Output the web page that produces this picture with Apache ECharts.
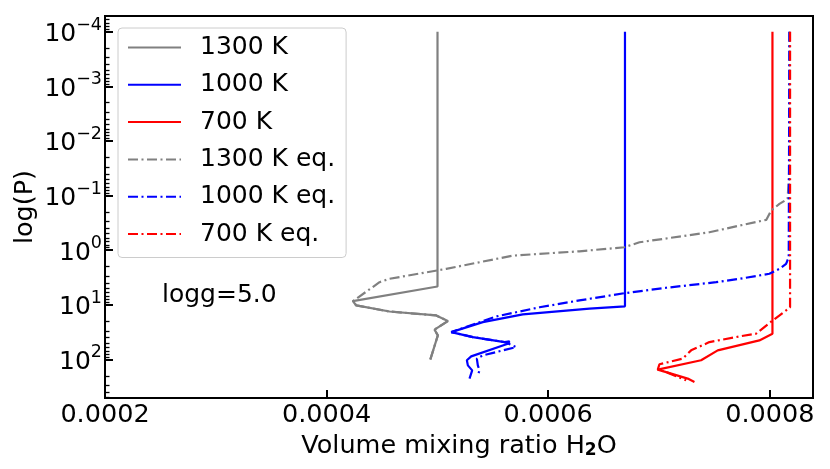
<!DOCTYPE html>
<html lang="en">
<head>
	<meta charset="UTF-8">
	<title>H2O mixing ratio</title>
	<script src="https://cdn.jsdelivr.net/npm/echarts@6/dist/echarts.min.js"></script>
	<style>
		html, body { margin: 0; padding: 0; background: #fff; }
		#chart { width: 830px; height: 469px; }
	</style>
</head>
<body>
<div id="chart"></div>
<script>
    // volume mixing ratio (x) and pressure (y)
    var mr1300 = [0.0005001, 0.0005001, 0.0004237, 0.0004268, 0.0004568, 0.0004990, 0.0005094, 0.0004974, 0.0005004, 0.0004936];
    var p1300 = [1e-4, 4.63, 8.6, 10.3, 13.3, 15.7, 19.9, 28.6, 36.4, 101];

    var mr1000 = [0.0006693, 0.0006693, 0.0006373, 0.0005771, 0.0005410, 0.0005125, 0.0005320, 0.0005606, 0.0005651, 0.0005636, 0.0005305, 0.0005266, 0.0005275, 0.0005314, 0.0005290];
    var p1000 = [1e-4, 10.7, 11.8, 15.0, 20.8, 31.7, 39.1, 48.3, 46.9, 51.6, 88.1, 104, 129, 159, 225];

    var mr700 = [0.0008024, 0.0008024, 0.0007906, 0.0007530, 0.0007380, 0.0006989, 0.0007065, 0.0007259, 0.0007320];
    var p700 = [1e-4, 33.9, 45, 68.4, 104, 154, 171, 225, 260];

    var mr1300eq = [0.0008177, 0.0008177, 0.0008172, 0.0008161, 0.0008087, 0.0008012, 0.0007969, 0.0007726, 0.0007455, 0.0006824, 0.0006688, 0.0006282, 0.0005681, 0.0005080, 0.0004568, 0.0004478, 0.0004237, 0.0004268, 0.0004568, 0.0004990, 0.0005094, 0.0004974, 0.0005004, 0.0004936];
    var p1300eq = [1e-4, 0.0247, 0.0498, 0.1154, 0.1425, 0.189, 0.279, 0.355, 0.471, 0.718, 0.885, 1.05, 1.26, 2.2, 3.35, 3.86, 8.6, 10.3, 13.3, 15.7, 19.9, 28.6, 36.4, 101];

    var mr1000eq = [0.0008177, 0.0008171, 0.0008147, 0.0008087, 0.0007996, 0.0007726, 0.0007516, 0.0007065, 0.0006688, 0.0006282, 0.0005922, 0.0005531, 0.0005125, 0.0005320, 0.0005606, 0.0005711, 0.0005410, 0.0005356, 0.0005365, 0.0005380, 0.0005365];
    var p1000eq = [1e-4, 1.35, 1.78, 2.2, 2.71, 3.35, 3.86, 4.89, 6.14, 8.34, 11.1, 16.4, 31.7, 39.1, 48.3, 59.6, 84.5, 97.1, 129, 159, 196];

    var mr700eq = [0.0008183, 0.0008183, 0.0008147, 0.0008026, 0.0007876, 0.0007726, 0.0007455, 0.0007290, 0.0007214, 0.0007004, 0.0006989, 0.0007065, 0.0007245];
    var p700eq = [1e-4, 11.1, 12.7, 19.4, 33.9, 38, 48.3, 68.4, 97, 123, 154, 171, 242];

    var xTicks = [0.0002, 0.0004, 0.0006, 0.0008];
    var yTicks = [1e-4, 1e-3, 1e-2, 1e-1, 1, 10, 100];

    var minorTicks = [];
    for (var e = -5; e <= 2; e++) {
        for (var m = 2; m <= 9; m++) {
            var v = m * Math.pow(10, e);
            if (v > 5.16e-5 && v < 510) minorTicks.push(v);
        }
    }

    function pairs(xs, ps) {
        return xs.map(function (x, i) { return [x, ps[i]]; });
    }

    var dashDot = [10, 3.5, 2, 3.5];
    // second y axis only carries the minor ticks, a series must sit on it or it stays blank
    function line(name, xs, ps, color, dashed, yIdx) {
        return {
            name: name,
            type: 'line',
            yAxisIndex: yIdx || 0,
            data: pairs(xs, ps),
            symbol: 'none',
            showSymbol: false,
            lineStyle: { color: color, width: 2.2, type: dashed ? dashDot : 'solid' },
            itemStyle: { color: color },
            z: dashed ? 3 : 2
        };
    }

    var font = 'DejaVu Sans';
    var chart = echarts.init(document.getElementById('chart'));
    chart.setOption({
        animation: false,
        textStyle: { fontFamily: font },
        grid: {
            left: 105, right: 17, top: 16, bottom: 71,
            show: true, borderColor: '#000', borderWidth: 2,
            outerBoundsMode: 'none'
        },
        legend: {
            left: 118, top: 28, orient: 'vertical',
            padding: [7, 11, 11, 9],
            itemWidth: 53, itemHeight: 25, itemGap: 12.3,
            itemStyle: { opacity: 0 },
            backgroundColor: 'rgba(255,255,255,0.8)',
            borderColor: '#cccccc', borderWidth: 1, borderRadius: 4,
            textStyle: { fontSize: 25, lineHeight: 25, color: '#000', fontFamily: font, padding: [0, 0, 0, 14] },
            data: ['1300 K', '1000 K', '700 K', '1300 K eq.', '1000 K eq.', '700 K eq.']
        },
        xAxis: {
            type: 'value',
            min: 0.0002, max: 0.000839, interval: 0.0002,
            name: '{a|Volume mixing ratio H}{s|2}{a|O}',
            nameLocation: 'middle', nameGap: 27,
            nameTextStyle: {
                rich: {
                    a: { fontSize: 25.5, fontFamily: font, color: '#000' },
                    s: { fontSize: 17, fontWeight: 'bold', fontFamily: font, color: '#000', verticalAlign: 'bottom', padding: [9, 0, 0, 0] }
                }
            },
            axisLine: { lineStyle: { color: '#000', width: 2 } },
            axisTick: { inside: true, length: 8, lineStyle: { color: '#000', width: 2 }, customValues: xTicks },
            axisLabel: {
                customValues: xTicks, margin: 4, fontSize: 25.5, color: '#000', fontFamily: font,
                formatter: function (v) { return v.toFixed(4); }
            },
            splitLine: { show: false }
        },
        yAxis: [{
            type: 'log', logBase: 10, inverse: true,
            min: 5.16e-5, max: 510,
            name: 'log(P)', nameLocation: 'middle', nameRotate: 90, nameGap: 67,
            nameMoveOverlap: false,
            nameTextStyle: { fontSize: 25.5, color: '#000', fontFamily: font },
            axisLine: { lineStyle: { color: '#000', width: 2 } },
            axisTick: { inside: true, length: 8, lineStyle: { color: '#000', width: 2 }, customValues: yTicks },
            axisLabel: {
                customValues: yTicks, margin: 3, color: '#000',
                formatter: function (v) {
                    var ex = Math.round(Math.log10(v));
                    return '{b|10}{s|' + (ex < 0 ? '\u2212' + (-ex) : ex) + '}';
                },
                rich: {
                    b: { fontSize: 25, fontFamily: font, color: '#000', verticalAlign: 'bottom', lineHeight: 31 },
                    s: { fontSize: 17.5, fontFamily: font, color: '#000', verticalAlign: 'top', lineHeight: 17 }
                }
            },
            splitLine: { show: false }
        }, {
            type: 'log', logBase: 10, inverse: true,
            min: 5.16e-5, max: 510, position: 'left',
            axisLine: { show: false },
            axisTick: { inside: true, length: 4.5, lineStyle: { color: '#000', width: 1.3 }, customValues: minorTicks },
            axisLabel: { show: false },
            splitLine: { show: false }
        }],
        graphic: [{
            type: 'text', left: 162, top: 283,
            style: { text: 'logg=5.0', fontSize: 25, fontFamily: font, fill: '#000' }
        }],
        series: [
            line('1300 K', mr1300, p1300, '#808080', false),
            line('1000 K', mr1000, p1000, '#0000ff', false),
            line('700 K', mr700, p700, '#ff0000', false, 1),
            line('1300 K eq.', mr1300eq, p1300eq, '#808080', true),
            line('1000 K eq.', mr1000eq, p1000eq, '#0000ff', true),
            line('700 K eq.', mr700eq, p700eq, '#ff0000', true)
        ]
    });
</script>
</body>
</html>
